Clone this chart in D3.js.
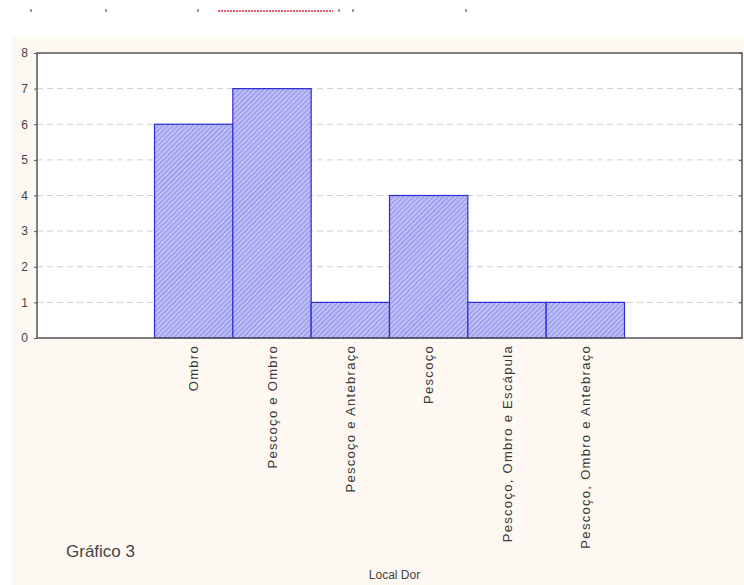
<!DOCTYPE html>
<html>
<head>
<meta charset="utf-8">
<script src="https://cdn.jsdelivr.net/npm/d3@7"></script>
<style>
  body { margin: 0; background: #ffffff; }
  svg { display: block; font-family: "Liberation Sans", Arial, sans-serif; }
</style>
</head>
<body>
<div id="chart"></div>
<script>
// Data
var categories = ["Ombro", "Pescoço e Ombro", "Pescoço e Antebraço", "Pescoço",
                  "Pescoço, Ombro e Escápula", "Pescoço, Ombro e Antebraço"];
var counts = [6, 7, 1, 4, 1, 1];
var yTicks = [0, 1, 2, 3, 4, 5, 6, 7, 8];

var W = 744, H = 585;
var margin = { top: 53, right: 2, bottom: 247, left: 37 },
    width = W - margin.left - margin.right,
    height = H - margin.top - margin.bottom;

var svg = d3.select("#chart").append("svg")
    .attr("width", W)
    .attr("height", H);

// hatch pattern for the bars
var defs = svg.append("defs");
var pat = defs.append("pattern")
    .attr("id", "hatch")
    .attr("patternUnits", "userSpaceOnUse")
    .attr("width", 3.5)
    .attr("height", 3.5)
    .attr("patternTransform", "rotate(45)");
pat.append("rect").attr("width", 3.5).attr("height", 3.5).attr("fill", "#bcbcf8");
pat.append("line")
    .attr("x1", 0).attr("y1", 0).attr("x2", 0).attr("y2", 3.5)
    .attr("stroke", "#6a6ad8").attr("stroke-width", 1);

// cream page panel
svg.append("rect")
    .attr("x", 12).attr("y", 37)
    .attr("width", W - 12).attr("height", H - 37)
    .attr("fill", "#fdf9f2");

// scribble at the very top (partial text of the page above)
svg.append("line")
    .attr("x1", 218).attr("x2", 333).attr("y1", 11).attr("y2", 11)
    .attr("stroke", "#e06070").attr("stroke-width", 2)
    .attr("stroke-dasharray", "2,1");
[30, 105, 197, 338, 352, 465].forEach(function (x) {
    svg.append("rect").attr("x", x).attr("y", 9).attr("width", 2).attr("height", 3)
        .attr("fill", "#999");
});

var g = svg.append("g")
    .attr("transform", "translate(" + margin.left + "," + margin.top + ")");

var x = d3.scaleBand()
    .domain(categories)
    .range([0, width])
    .paddingInner(0)
    .paddingOuter(1.5);

var y = d3.scaleLinear()
    .domain([0, 8])
    .range([height, 0]);

// white plot area
g.append("rect")
    .attr("width", width).attr("height", height)
    .attr("fill", "#ffffff");

// dashed grid lines
g.selectAll(".grid")
    .data(yTicks.filter(function (d) { return d > 0 && d < 8; }))
    .enter().append("line")
    .attr("x1", 0).attr("x2", width)
    .attr("y1", function (d) { return y(d); })
    .attr("y2", function (d) { return y(d); })
    .attr("stroke", "#cfcfcf")
    .attr("stroke-width", 1)
    .attr("stroke-dasharray", "6,4");

// bars
g.selectAll(".bar")
    .data(counts)
    .enter().append("rect")
    .attr("x", function (d, i) { return x(categories[i]); })
    .attr("y", function (d) { return y(d); })
    .attr("width", x.bandwidth())
    .attr("height", function (d) { return height - y(d); })
    .attr("fill", "url(#hatch)")
    .attr("stroke", "#2c2cd8")
    .attr("stroke-width", 1.2);

// frame
g.append("rect")
    .attr("width", width).attr("height", height)
    .attr("fill", "none")
    .attr("stroke", "#555")
    .attr("stroke-width", 1.5);

// y axis
var yAxis = d3.axisLeft(y)
    .tickValues(yTicks)
    .tickFormat(d3.format("d"))
    .tickSize(3)
    .tickPadding(6);
var ya = g.append("g").call(yAxis);
ya.select(".domain").remove();
ya.selectAll("text").attr("font-size", 12).attr("fill", "#444")
    .attr("font-family", "\"Liberation Sans\", Arial, sans-serif");
ya.selectAll("line").attr("stroke", "#555");

// right-side ticks
var yAxisR = d3.axisRight(y).tickValues(yTicks).tickSize(3).tickFormat("");
var yr = g.append("g").attr("transform", "translate(" + (width - 3) + ",0)").call(yAxisR);
yr.select(".domain").remove();
yr.selectAll("line").attr("stroke", "#555");

// x labels, rotated
var xa = g.append("g")
    .attr("transform", "translate(0," + height + ")")
    .call(d3.axisBottom(x).tickSize(0).tickPadding(0));
xa.select(".domain").remove();
xa.selectAll("text")
    .attr("transform", "rotate(-90)")
    .attr("x", -7)
    .attr("y", 0)
    .attr("dy", "0.35em")
    .style("text-anchor", "end")
    .attr("font-size", 13)
    .attr("letter-spacing", "1.3px")
    .attr("fill", "#3a3a3a")
    .attr("font-family", "\"Liberation Sans\", Arial, sans-serif");

// axis title
svg.append("text")
    .attr("x", margin.left + width / 2 + 5)
    .attr("y", 579)
    .attr("text-anchor", "middle")
    .attr("font-size", 12)
    .attr("fill", "#444")
    .text("Local Dor");

// caption
svg.append("text")
    .attr("x", 66)
    .attr("y", 557)
    .attr("font-size", 17)
    .attr("fill", "#444")
    .text("Gráfico 3");
</script>
</body>
</html>
